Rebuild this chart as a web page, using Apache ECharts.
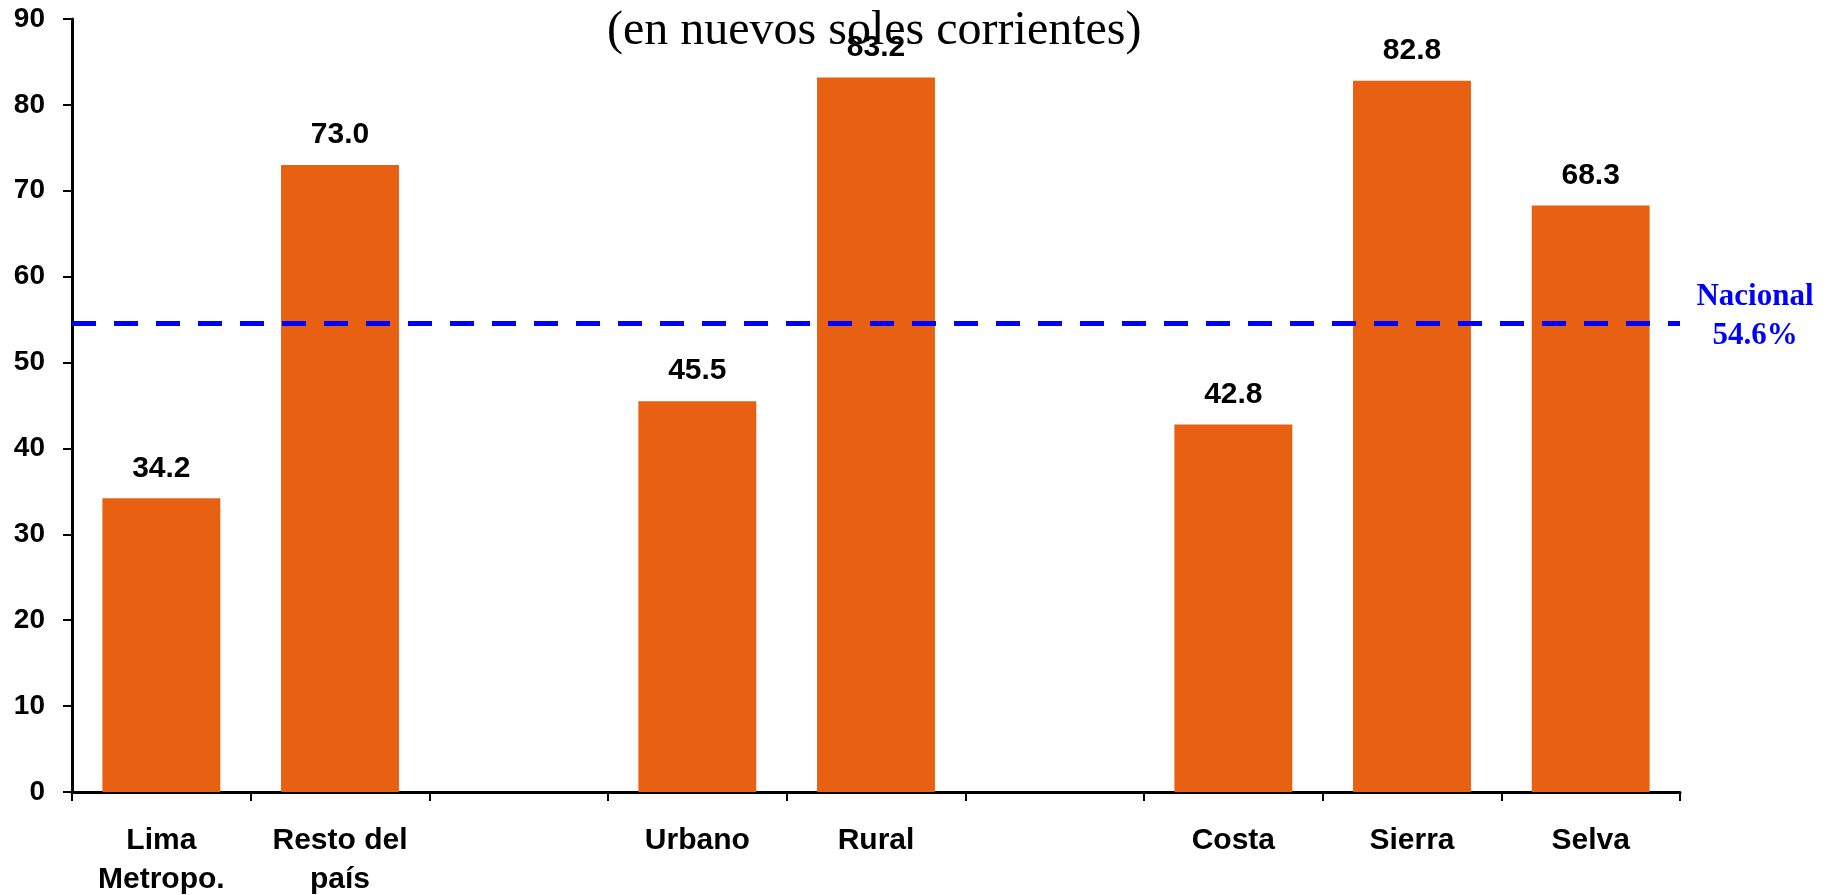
<!DOCTYPE html>
<html>
<head>
<meta charset="utf-8">
<script src="https://cdn.jsdelivr.net/npm/echarts@6/dist/echarts.min.js"></script>
<style>
  html, body { margin: 0; padding: 0; background: #ffffff; }
  #chart { width: 1832px; height: 895px; }
</style>
</head>
<body>
<div id="chart"></div>
<script>
// Categories (empty strings leave gaps between the three groups)
const categories = ['Lima\nMetropo.', 'Resto del\npaís', '', 'Urbano', 'Rural', '', 'Costa', 'Sierra', 'Selva'];
// Values per category
const values = [34.2, 73.0, null, 45.5, 83.2, null, 42.8, 82.8, 68.3];
// National reference level
const nacional = 54.6;
// Value axis range
const yMin = 0;
const yMax = 90;
const yStep = 10;
const subtitle = '(en nuevos soles corrientes)';

const chart = echarts.init(document.getElementById('chart'), null, { renderer: 'canvas' });

const sansBold = { fontFamily: 'Liberation Sans, Arial, sans-serif', fontWeight: 'bold', color: '#000000' };

chart.setOption({
  backgroundColor: '#ffffff',
  animation: false,
  title: {
    text: subtitle,
    left: 602,
    top: 2,
    textStyle: {
      fontFamily: 'Liberation Serif, Times New Roman, serif',
      fontWeight: 'normal',
      fontSize: 48,
      color: '#000000'
    }
  },
  grid: { left: 72, right: 152, top: 19, bottom: 103, containLabel: false, outerBoundsMode: 'none' },
  xAxis: {
    type: 'category',
    data: categories,
    boundaryGap: true,
    axisLine: { lineStyle: { color: '#000000', width: 3 } },
    axisTick: { show: true, alignWithLabel: false, length: 9, lineStyle: { color: '#000000', width: 2 } },
    axisLabel: Object.assign({}, sansBold, { fontSize: 30, lineHeight: 39, margin: 29, interval: 0 }),
    splitLine: { show: false }
  },
  yAxis: {
    type: 'value',
    min: yMin,
    max: yMax,
    interval: yStep,
    axisLine: { show: true, lineStyle: { color: '#000000', width: 3 } },
    axisTick: { show: true, length: 9, lineStyle: { color: '#000000', width: 2 } },
    axisLabel: Object.assign({}, sansBold, { fontSize: 28, margin: 27 }),
    splitLine: { show: false }
  },
  series: [{
    type: 'bar',
    data: values,
    barWidth: '66%',
    itemStyle: { color: '#E86011' },
    label: Object.assign({}, sansBold, {
      show: true,
      position: 'top',
      distance: 15,
      fontSize: 30,
      formatter: p => (p.value == null ? '' : Number(p.value).toFixed(1))
    }),
    markLine: {
      silent: true,
      symbol: 'none',
      lineStyle: { color: '#0000FF', width: 5, type: [24, 18] },
      label: {
        show: true,
        position: 'end',
        distance: 75,
        align: 'center',
        offset: [0, -7],
        fontFamily: 'Liberation Serif, Times New Roman, serif',
        fontWeight: 'bold',
        fontSize: 31,
        lineHeight: 39,
        color: '#0000FF',
        formatter: () => 'Nacional\n' + nacional.toFixed(1) + '%'
      },
      data: [{ yAxis: nacional }]
    }
  }]
});
</script>
</body>
</html>
